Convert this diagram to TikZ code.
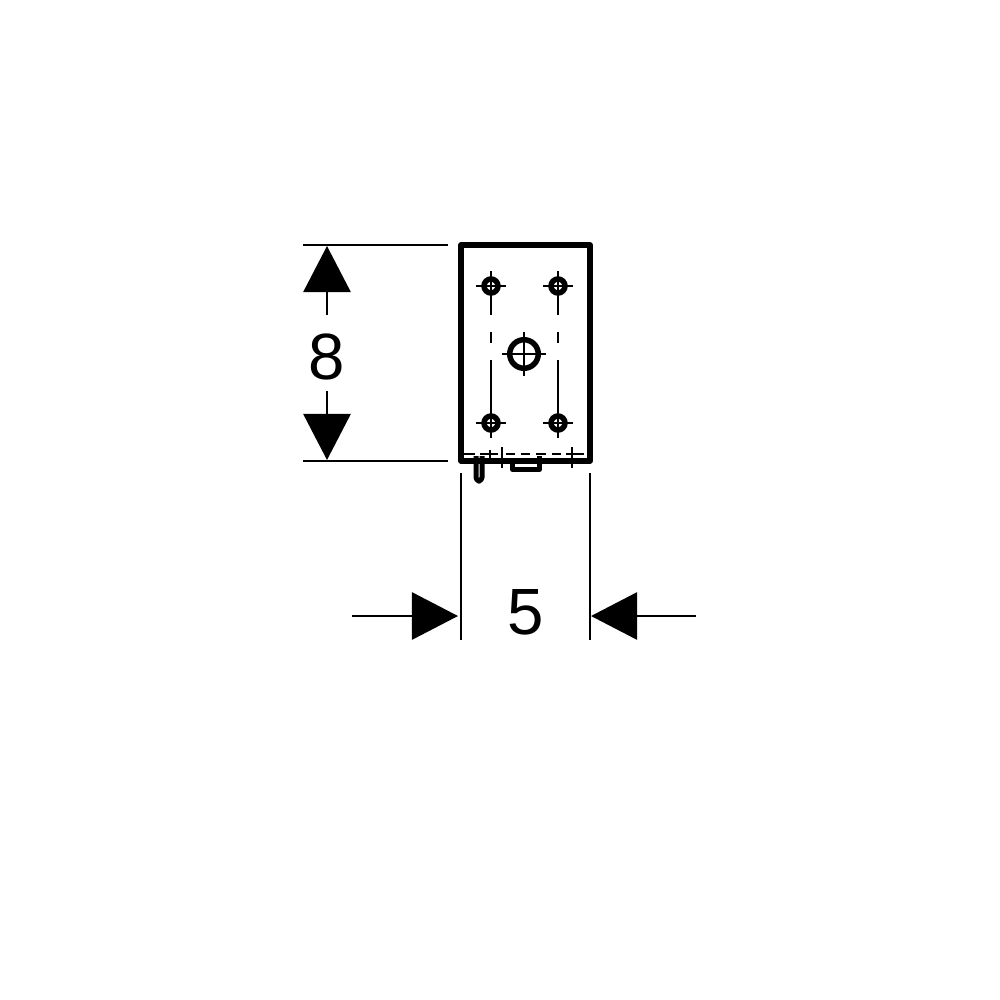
\documentclass[tikz,border=0pt]{standalone}
\usepackage{fontspec}
\setmainfont{Liberation Sans}
\usetikzlibrary{arrows.meta}
\tikzset{
    dim/.style={line width=0.027cm, -{Triangle[length=0.46cm, width=0.47cm]}},
    ext/.style={line width=0.027cm},
    body/.style={line width=0.052cm, line join=round},
    axis/.style={line width=0.027cm},
    num/.style={inner sep=0pt, font=\fontsize{18.6pt}{20pt}\selectfont},
    part/.style={line width=0.05cm, line join=round}
}
\newcommand{\hole}[3]{%
    \node [circle, draw, line width=0.055cm, minimum size=0.14cm, inner sep=0pt] (#3) at (#1,#2) {};
    \draw [axis] (#1-15,#2) -- (#1+15,#2);
    \draw [axis] (#1,#2-15) -- (#1,#2+15);
}
\begin{document}
\begin{tikzpicture}[x=0.01cm, y=-0.01cm]
    \useasboundingbox (0,0) rectangle (1000,1000);
    \coordinate (tl) at (461,245);
    \coordinate (br) at (590,461);
    \draw [body] (tl) rectangle (br);
    % holes
    \hole{491}{286}{h1}
    \hole{558}{286}{h2}
    \hole{491}{423}{h3}
    \hole{558}{423}{h4}
    \node [circle, draw, line width=0.055cm, minimum size=0.285cm, inner sep=0pt] (big) at (524,354) {};
    \draw [axis] (502,354) -- (546,354);
    \draw [axis] (524,332) -- (524,376);
    \draw [axis] (491,301) -- (491,315);
    \draw [axis] (558,301) -- (558,315);
    \draw [axis] (491,332) -- (491,343);
    \draw [axis] (558,332) -- (558,343);
    \draw [axis] (491,360) -- (491,408);
    \draw [axis] (558,360) -- (558,408);
    % bottom
    \foreach \xa/\xb in {464/475, 480/498, 506/515, 521/530, 536/546, 552/561, 566/584}
        \draw [axis] (\xa,454) -- (\xb,454);
    \draw [axis] (502,447) -- (502,468);
    \draw [axis] (572,447) -- (572,468);
    \draw [axis] (490,450) -- (490,458);
    \draw [part, rounded corners=1] (476,456) -- (476,481) -- (482,481) -- (482,456);
    \draw [part] (512.5,458) -- (512.5,469.5) -- (539.5,469.5) -- (539.5,456);
    % dimensions
    \coordinate (v1) at (303,245);
    \coordinate (v2) at (448,245);
    \coordinate (v3) at (303,461);
    \coordinate (v4) at (448,461);
    \draw [ext] (v1) -- (v2);
    \draw [ext] (v3) -- (v4);
    \node [num] (eight) at (327,357) {8};
    \coordinate (a1) at (327,315);
    \coordinate (a2) at (327,246);
    \coordinate (a3) at (327,391);
    \coordinate (a4) at (327,460);
    \draw [dim] (a1) -- (a2);
    \draw [dim] (a3) -- (a4);
    \coordinate (w1) at (461,473);
    \coordinate (w2) at (461,640);
    \coordinate (w3) at (590,473);
    \coordinate (w4) at (590,640);
    \draw [ext] (w1) -- (w2);
    \draw [ext] (w3) -- (w4);
    \node [num] (five) at (526,612) {5};
    \coordinate (b1) at (352,616);
    \coordinate (b2) at (458,616);
    \coordinate (b3) at (696,616);
    \coordinate (b4) at (591,616);
    \draw [dim] (b1) -- (b2);
    \draw [dim] (b3) -- (b4);
\end{tikzpicture}
\end{document}
